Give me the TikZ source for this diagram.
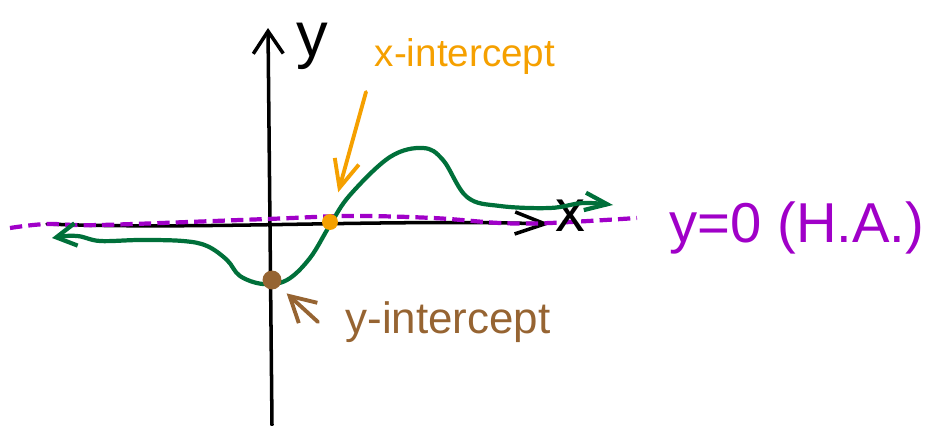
\documentclass[tikz,border=0pt]{standalone}
\usepackage{fontspec}
\setmainfont{Liberation Sans}
\usetikzlibrary{arrows.meta,positioning}
\definecolor{grgreen}{RGB}{0,112,58}
\definecolor{hapurple}{RGB}{160,0,200}
\definecolor{xintorange}{RGB}{245,160,0}
\definecolor{yintbrown}{RGB}{150,100,50}

\begin{document}
\begin{tikzpicture}[x=0.02cm,y=-0.02cm,line cap=round,line join=round,
  axisline/.style={line width=2pt,black},
  haline/.style={line width=2.4pt,hapurple,dash pattern=on 7pt off 3.5pt,line cap=butt},
  graph/.style={line width=2.4pt,grgreen},
  dot/.style={circle,inner sep=0pt,minimum size=#1},
  hand/.style={font=\fontsize{#1}{#1}\selectfont,inner sep=1pt}]
\useasboundingbox (0,0) rectangle (931,426);
\coordinate (xl) at (47,224);
\coordinate (xr) at (550,224);
\coordinate (yb) at (272,425);
\coordinate (yt) at (268,28);
\draw[axisline,-{Straight Barb[length=0.6cm,width=0.44cm]}] (xl) .. controls (200,230) and (380,219) .. (xr);
\draw[axisline,-{Straight Barb[length=0.45cm,width=0.6cm]}] (yb) -- (yt);
\draw[haline] plot[smooth,tension=0.6] coordinates {(10,228) (47,224) (100,225) (267,219) (350,216) (433,218) (500,223) (550,223) (637,218)};
\node[hand=34pt] (xlab) at (570,216) {x};
\node[hand=36pt] (ylab) at (312,46) {y};
\draw[graph,{Straight Barb[length=0.4cm,width=0.45cm]}-{Straight Barb[length=0.45cm,width=0.35cm]}] plot[smooth,tension=0.6] coordinates {(52,238) (77,236) (100,241) (140,240) (183,241) (207,246) (227,260) (240,276) (263,284) (287,280) (310,258) (330,225) (350,195) (390,157) (423,148) (443,160) (467,197) (500,206) (550,208) (583,203) (613,205)};
\node[dot=0.32cm,fill=xintorange] (xint) at (330,222) {};
\node[dot=0.38cm,fill=yintbrown] (yint) at (272,280) {};
\node[hand=22pt,text=xintorange] (xintlab) at (465,57) {x-intercept};
\node[hand=25pt,text=yintbrown] (yintlab) at (448,322) {y-intercept};
\node[hand=32pt,text=hapurple] (halab) at (797,228) {y=0 (H.A.)};
\coordinate (xtail) at (366,92);
\coordinate (ytail) at (318,322);
\draw[line width=2.2pt,xintorange,-{Straight Barb[length=0.55cm,width=0.5cm]},shorten >=0.45cm] (xtail) -- (xint);
\draw[line width=2.2pt,yintbrown,-{Straight Barb[length=0.5cm,width=0.55cm]},shorten >=0.2cm] (ytail) -- (yint);
\end{tikzpicture}
\end{document}
